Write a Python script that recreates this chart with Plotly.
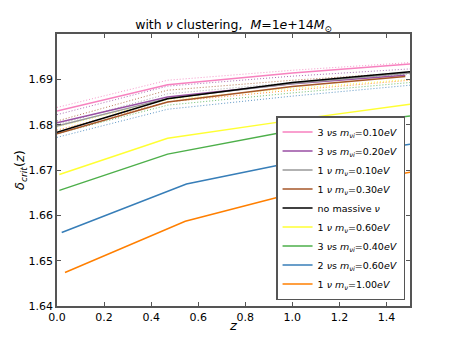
import plotly.graph_objects as go

# solid lines: with nu clustering
names = [
    "3 <i>ν</i>s <i>m</i><sub><i>νi</i></sub>=0.10<i>eV</i>",
    "3 <i>ν</i>s <i>m</i><sub><i>νi</i></sub>=0.20<i>eV</i>",
    "1 <i>ν</i> <i>m</i><sub><i>ν</i></sub>=0.10<i>eV</i>",
    "1 <i>ν</i> <i>m</i><sub><i>ν</i></sub>=0.30<i>eV</i>",
    "no massive <i>ν</i>",
    "1 <i>ν</i> <i>m</i><sub><i>ν</i></sub>=0.60<i>eV</i>",
    "3 <i>ν</i>s <i>m</i><sub><i>νi</i></sub>=0.40<i>eV</i>",
    "2 <i>ν</i>s <i>m</i><sub><i>νi</i></sub>=0.60<i>eV</i>",
    "1 <i>ν</i> <i>m</i><sub><i>ν</i></sub>=1.00<i>eV</i>",
]
colors = ["#f781bf", "#984ea3", "#999999", "#a65628", "#000000",
          "#ffff33", "#4daf4a", "#377eb8", "#ff7f00"]

z_pink = [0.0, 0.47, 1.0, 1.5]
d_pink = [1.6830, 1.6888, 1.6914, 1.6934]
z_purple = [0.0, 0.47, 1.0, 1.48]
d_purple = [1.6804, 1.6861, 1.6890, 1.6909]
z_gray = [0.0, 0.47, 1.0, 1.5]
d_gray = [1.6797, 1.6858, 1.6891, 1.6914]
z_brown = [0.0, 0.47, 1.0, 1.48]
d_brown = [1.6780, 1.6850, 1.6884, 1.6906]
z_black = [0.0, 0.08, 0.47, 1.0, 1.5]
d_black = [1.6783, 1.6796, 1.6857, 1.6893, 1.6917]
z_yellow = [0.01, 0.47, 1.0, 1.5]
d_yellow = [1.6690, 1.6770, 1.6810, 1.6845]
z_green = [0.01, 0.47, 1.0, 1.5]
d_green = [1.6655, 1.6735, 1.6787, 1.6819]
z_blue = [0.02, 0.55, 1.05, 1.5]
d_blue = [1.6562, 1.6669, 1.6722, 1.6757]
z_orange = [0.034, 0.545, 1.05, 1.5]
d_orange = [1.6474, 1.6587, 1.6655, 1.6695]

solid_z = [z_pink, z_purple, z_gray, z_brown, z_black, z_yellow, z_green, z_blue, z_orange]
solid_d = [d_pink, d_purple, d_gray, d_brown, d_black, d_yellow, d_green, d_blue, d_orange]

# dotted lines (no legend)
z_dot = [0.0, 0.47, 1.0, 1.5]
dot_colors = ["#f781bf", "#984ea3", "#a65628", "#999999",
              "#ffff33", "#ff7f00", "#4daf4a", "#377eb8"]
dot_d = [
    [1.6838, 1.6898, 1.6920, 1.6937],
    [1.6822, 1.6885, 1.6907, 1.6923],
    [1.6808, 1.6876, 1.6898, 1.6915],
    [1.6800, 1.6868, 1.6893, 1.6912],
    [1.6795, 1.6855, 1.6880, 1.6900],
    [1.6788, 1.6850, 1.6876, 1.6898],
    [1.6780, 1.6843, 1.6870, 1.6893],
    [1.6772, 1.6834, 1.6863, 1.6887],
]

fig = go.Figure()

for c, d in zip(dot_colors, dot_d):
    fig.add_trace(go.Scatter(x=z_dot, y=d, mode="lines", showlegend=False,
                             line=dict(color=c, width=1, dash="1px,2px"), opacity=0.8))

for n, c, zz, d in zip(names, colors, solid_z, solid_d):
    fig.add_trace(go.Scatter(x=zz, y=d, mode="lines", name=n,
                             line=dict(color=c, width=1.5)))

axis_style = dict(showline=True, linecolor="#555555", linewidth=1.5, mirror="allticks",
                  ticks="inside", ticklen=4, tickcolor="#555555", showgrid=False,
                  zeroline=False, automargin=False, tickfont=dict(size=11, color="black"))

# page body has an 8px margin, so the figure is a bit smaller than the window
fig.update_layout(
    width=439, height=325,
    margin=dict(l=49, r=37, t=26, b=27),
    paper_bgcolor="white", plot_bgcolor="white",
    font=dict(family="DejaVu Sans", color="black"),
    title=dict(text="with <i>ν</i> clustering,  <i>M</i>=1<i>e</i>+14<i>M</i><sub>⊙</sub>",
               x=(49 + 402) / 2 / 439, xanchor="center", y=0.948, yanchor="middle",
               font=dict(size=12.5), automargin=False),
    xaxis=dict(range=[0, 1.5], tickvals=[0.0, 0.2, 0.4, 0.6, 0.8, 1.0, 1.2, 1.4],
               tickformat=".1f", title=dict(text="<i>z</i>", font=dict(size=13), standoff=0),
               **axis_style),
    yaxis=dict(range=[1.64, 1.70], tickvals=[1.64, 1.65, 1.66, 1.67, 1.68, 1.69],
               tickformat=".2f",
               title=dict(text="<i>δ</i><sub><i>crit</i></sub>(<i>z</i>)", font=dict(size=13),
                          standoff=1),
               **axis_style),
    legend=dict(x=0.986, xanchor="right", y=0.022, yanchor="bottom",
                bgcolor="white", bordercolor="#555555", borderwidth=1.5,
                font=dict(size=9.5), tracegroupgap=0, itemwidth=30),
)

fig.write_html("out.html")
